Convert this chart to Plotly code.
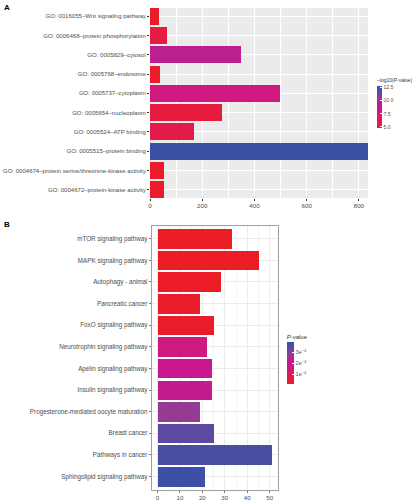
import plotly.graph_objects as go

W, H = 412, 500

# ---- Panel A data (GO terms) ----
go_terms = [
    "GO: 0016055\u2013Wnt signaling pathway",
    "GO: 0006468\u2013protein phosphorylation",
    "GO: 0005829\u2013cytosol",
    "GO: 0005768\u2013endosome",
    "GO: 0005737\u2013cytoplasm",
    "GO: 0005654\u2013nucleoplasm",
    "GO: 0005524\u2013ATP binding",
    "GO: 0005515\u2013protein binding",
    "GO: 0004674\u2013protein serine/threonine-kinase activity",
    "GO: 0004672\u2013protein-kinase activity",
]
go_counts = [35, 66, 349, 38, 499, 277, 170, 835, 55, 55]
go_logp = [5.0, 5.8, 9.6, 5.0, 8.0, 5.7, 6.1, 12.8, 5.0, 5.1]
go_ticks = [0, 200, 400, 600, 800]
go_cb_ticks = [5.0, 7.5, 10.0, 12.5]
go_cb_labels = ["5.0", "7.5", "10.0", "12.5"]

# ---- Panel B data (KEGG pathways) ----
kegg_terms = [
    "mTOR signaling pathway",
    "MAPK signaling pathway",
    "Autophagy - animal",
    "Pancreatic cancer",
    "FoxO signaling pathway",
    "Neurotrophin signaling pathway",
    "Apelin signaling pathway",
    "Insulin signaling pathway",
    "Progesterone-mediated oocyte maturation",
    "Breast cancer",
    "Pathways in cancer",
    "Sphingolipid signaling pathway",
]
kegg_counts = [33, 45, 28, 19, 25, 22, 24, 24, 19, 25, 51, 21]
kegg_p = [1.5e-5, 1.6e-5, 1.8e-5, 2.0e-5, 2.4e-5, 1.65e-4, 1.99e-4, 2.22e-4,
          2.86e-4, 3.43e-4, 3.69e-4, 3.88e-4]
kegg_ticks = [0, 10, 20, 30, 40, 50]
kegg_cb_ticks = [1e-4, 2e-4, 3e-4]
kegg_cb_labels = ["1e<sup>\u22124</sup>", "2e<sup>\u22124</sup>", "3e<sup>\u22124</sup>"]

cs = [
    [0.0, "#EC1C24"],
    [0.15, "#E41B45"],
    [0.4, "#D0197F"],
    [0.5, "#C8168D"],
    [0.6, "#B8218F"],
    [0.72, "#953B94"],
    [0.87, "#5B4A9F"],
    [1.0, "#3951A5"],
]

FONT = "Liberation Sans, Arial, sans-serif"
TXT = "#4D4D4D"

fig = go.Figure()
fig.add_trace(go.Bar(
    x=go_counts, y=go_terms, orientation="h", width=0.88,
    marker=dict(color=go_logp, coloraxis="coloraxis", line=dict(width=0)),
    xaxis="x", yaxis="y", hoverinfo="x+y"))
fig.add_trace(go.Bar(
    x=kegg_counts, y=kegg_terms, orientation="h", width=0.9,
    marker=dict(color=kegg_p, coloraxis="coloraxis2", line=dict(width=0)),
    xaxis="x2", yaxis="y2", hoverinfo="x+y"))

def px_x(p):
    return p / W

def px_y(p):
    return 1 - p / H

fig.update_layout(
    width=W, height=H,
    margin=dict(l=0, r=0, t=0, b=0, autoexpand=False),
    paper_bgcolor="white", plot_bgcolor="white",
    showlegend=False, bargap=0,
    font=dict(family=FONT, size=6.3, color=TXT),
    xaxis=dict(
        domain=[px_x(150), px_x(368)], anchor="y", range=[0, 835],
        tickvals=go_ticks, showgrid=True, gridcolor="white", gridwidth=1,
        minor=dict(tickvals=[100, 300, 500, 700], showgrid=True, gridcolor="white", gridwidth=0.5),
        ticks="outside", ticklen=2, tickcolor="#333333", zeroline=False,
        tickfont=dict(size=6.2, color=TXT), automargin=False),
    yaxis=dict(
        domain=[px_y(198), px_y(8)], anchor="x", type="category",
        categoryorder="array", categoryarray=go_terms[::-1],
        range=[-0.43, 9.43], showgrid=True, gridcolor="white", gridwidth=1,
        ticks="outside", ticklen=2, tickcolor="#333333", zeroline=False,
        tickfont=dict(size=6.05, color=TXT), automargin=False),
    xaxis2=dict(
        domain=[px_x(151.7), px_x(277.7)], anchor="y2", range=[-2.55, 53.55],
        tickvals=kegg_ticks, showgrid=True, gridcolor="#EBEBEB", gridwidth=1,
        minor=dict(tickvals=[5, 15, 25, 35, 45], showgrid=True, gridcolor="#F4F4F4", gridwidth=0.5),
        showline=True, mirror=True, linecolor="#A0A0A0", linewidth=1,
        ticks="outside", ticklen=2, tickcolor="#777777", zeroline=False,
        tickfont=dict(size=6.2, color=TXT), automargin=False),
    yaxis2=dict(
        domain=[px_y(489.5), px_y(225.7)], anchor="x2", type="category",
        categoryorder="array", categoryarray=kegg_terms[::-1],
        range=[-0.6, 11.6], showgrid=True, gridcolor="#EBEBEB", gridwidth=1,
        showline=True, mirror=True, linecolor="#A0A0A0", linewidth=1,
        ticks="outside", ticklen=2, tickcolor="#777777", zeroline=False,
        tickfont=dict(size=6.3, color=TXT), automargin=False),
    coloraxis=dict(
        cmin=4.8, cmax=12.8, colorscale=cs,
        colorbar=dict(
            x=px_x(377), xanchor="left", y=px_y(75), yanchor="top",
            len=53, lenmode="pixels", thickness=5, thicknessmode="pixels",
            outlinewidth=0, xpad=0, ypad=0,
            tickvals=go_cb_ticks, ticktext=go_cb_labels,
            ticks="inside", tickcolor="white", ticklen=1.5,
            tickfont=dict(size=5, color=TXT, family=FONT),
            title=dict(text="\u2013log10(P-value)", side="top",
                       font=dict(size=5, color="#333333", family=FONT)))),
    coloraxis2=dict(
        cmin=1.4e-5, cmax=3.92e-4, colorscale=cs,
        colorbar=dict(
            x=px_x(286.7), xanchor="left", y=px_y(331), yanchor="top",
            len=53, lenmode="pixels", thickness=7, thicknessmode="pixels",
            outlinewidth=0, xpad=0, ypad=0,
            tickvals=kegg_cb_ticks, ticktext=kegg_cb_labels,
            ticks="inside", tickcolor="white", ticklen=1.5,
            tickfont=dict(size=5.5, color=TXT, family=FONT),
            title=dict(text="<i>P</i>-value", side="top",
                       font=dict(size=6, color="#333333", family=FONT)))),
    shapes=[dict(type="rect", xref="x domain", yref="y domain",
                 x0=0, x1=1, y0=0, y1=1, fillcolor="#EBEBEB",
                 line=dict(width=0), layer="below")],
    annotations=[
        dict(text="<b>A</b>", x=px_x(1.5), y=px_y(1), xref="paper", yref="paper",
             xanchor="left", yanchor="top", showarrow=False,
             font=dict(size=8, color="black", family=FONT)),
        dict(text="<b>B</b>", x=px_x(1.5), y=px_y(218), xref="paper", yref="paper",
             xanchor="left", yanchor="top", showarrow=False,
             font=dict(size=8, color="black", family=FONT)),
    ],
)

fig.write_html(
    "out.html",
    config={"displayModeBar": False},
    post_script="document.body.style.margin='0';document.body.style.overflow='hidden';",
)
